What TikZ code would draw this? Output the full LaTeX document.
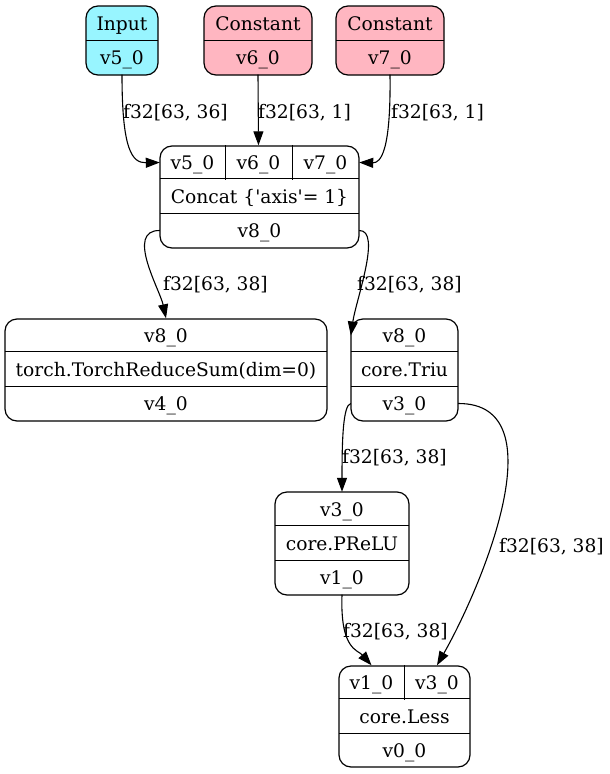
\documentclass[tikz,border=0pt]{standalone}
\usepackage{fontspec}
\setmainfont{DejaVu Serif}
\usepackage{tikz}
\usetikzlibrary{arrows.meta}
\definecolor{inputfill}{HTML}{98F5FF}
\definecolor{constfill}{HTML}{FFB6C1}
\tikzstyle{record}=[draw,rounded corners=12pt,line width=1.2pt,inner sep=0pt]
\tikzstyle{cell}=[inner sep=0pt,minimum height=34pt,text height=17pt,text depth=3pt]
\tikzstyle{elabel}=[inner sep=0pt,anchor=west,text height=17pt,text depth=3pt]
\tikzstyle{flow}=[line width=1.1pt,-{Triangle[length=14pt,width=10pt]}]
\tikzstyle{rule}=[line width=1.2pt]

\begin{document}
\begin{tikzpicture}[x=1pt,y=-1pt,font=\fontsize{18.67}{22}\selectfont]
\useasboundingbox (0,0) rectangle (610,774);

% sources
\node [record,fill=inputfill,minimum width=72pt,minimum height=69pt] (in) at (122,40.5) {};
\node [cell,minimum width=72pt] (inT) at (122,23) {Input};
\node [cell,minimum width=72pt] (inB) at (122,57.5) {v5\_0};
\node [record,fill=constfill,minimum width=108pt,minimum height=69pt] (k6) at (258,40.5) {};
\node [cell,minimum width=108pt] (k6T) at (258,23) {Constant};
\node [cell,minimum width=108pt] (k6B) at (258,57.5) {v6\_0};
\node [record,fill=constfill,minimum width=108pt,minimum height=69pt] (k7) at (390,40.5) {};
\node [cell,minimum width=108pt] (k7T) at (390,23) {Constant};
\node [cell,minimum width=108pt] (k7B) at (390,57.5) {v7\_0};
\foreach \n in {inT,k6T,k7T}
  \draw [rule] (\n.south west) -- (\n.south east);

% concat
\node [record,minimum width=199pt,minimum height=102pt] (cc) at (259.5,197) {};
\node [cell,minimum width=65pt] (cc5) at (192.5,162.5) {v5\_0};
\node [cell,minimum width=67pt] (cc6) at (258.5,162.5) {v6\_0};
\node [cell,minimum width=67pt] (cc7) at (325.5,162.5) {v7\_0};
\node [cell,minimum width=199pt] (ccOp) at (259.5,196) {Concat \{\textquotesingle axis\textquotesingle = 1\}};
\node [cell,minimum width=199pt] (cc8) at (259.5,230.5) {v8\_0};
\draw [rule] (cc5.north east) -- (cc5.south east);
\draw [rule] (cc6.north east) -- (cc6.south east);
\draw [rule] (ccOp.north west) -- (ccOp.north east);
\draw [rule] (ccOp.south west) -- (ccOp.south east);

% reduce sum
\node [record,minimum width=322pt,minimum height=102pt] (rs) at (166,370) {};
\node [cell,minimum width=322pt] (rsT) at (166,335.5) {v8\_0};
\node [cell,minimum width=322pt] (rsOp) at (166,369) {torch.TorchReduceSum(dim=0)};
\node [cell,minimum width=322pt] (rsB) at (166,403.5) {v4\_0};

% triu
\node [record,minimum width=107pt,minimum height=102pt] (tr) at (404.5,370) {};
\node [cell,minimum width=107pt] (trT) at (404.5,335.5) {v8\_0};
\node [cell,minimum width=107pt] (trOp) at (404.5,369) {core.Triu};
\node [cell,minimum width=107pt] (trB) at (404.5,403.5) {v3\_0};

% prelu
\node [record,minimum width=134pt,minimum height=103pt] (pr) at (342,543.5) {};
\node [cell,minimum width=134pt] (prT) at (342,509) {v3\_0};
\node [cell,minimum width=134pt] (prOp) at (342,543) {core.PReLU};
\node [cell,minimum width=134pt] (prB) at (342,577.5) {v1\_0};

% less
\node [record,minimum width=131pt,minimum height=101pt] (ls) at (404.5,716.5) {};
\node [cell,minimum width=65pt] (ls1) at (371.5,682.5) {v1\_0};
\node [cell,minimum width=66pt] (ls3) at (437,682.5) {v3\_0};
\node [cell,minimum width=131pt] (lsOp) at (404.5,716) {core.Less};
\node [cell,minimum width=131pt] (lsB) at (404.5,750) {v0\_0};
\draw [rule] (ls1.north east) -- (ls1.south east);
\draw [rule] (lsOp.north west) -- (lsOp.north east);

\foreach \n in {rsOp,trOp,prOp,lsOp}
  \draw [rule] (\n.north west) -- (\n.north east) (\n.south west) -- (\n.south east);

% edges
\draw [flow] (inB.south) .. controls (122,150) and (132,163) .. (cc5.west);
\draw [flow] (k6B.south) -- (cc6.north);
\draw [flow] (k7B.south) .. controls (391,150) and (381,163) .. (cc7.east);
\draw [flow] (cc8.west) .. controls (125,230) and (160,290) .. (rsT.north);
\draw [flow] (cc8.east) .. controls (382,230) and (356,300) .. (trT.west);
\draw [flow] (trB.west) .. controls (343,405) and (342,440) .. (prT.north);
\draw [flow] (trB.east) .. controls (560,403) and (480,590) .. (ls3.north);
\draw [flow] (prB.south) .. controls (340,650) and (358,650) .. (ls1.north);

% edge labels
\node [elabel] (l1) at (123,111) {f32[63, 36]};
\node [elabel] (l2) at (258,111) {f32[63, 1]};
\node [elabel] (l3) at (391,111) {f32[63, 1]};
\node [elabel] (l4) at (163,283) {f32[63, 38]};
\node [elabel] (l5) at (357,283) {f32[63, 38]};
\node [elabel] (l6) at (342,456) {f32[63, 38]};
\node [elabel] (l7) at (499,545) {f32[63, 38]};
\node [elabel] (l8) at (343,630) {f32[63, 38]};
\end{tikzpicture}
\end{document}
